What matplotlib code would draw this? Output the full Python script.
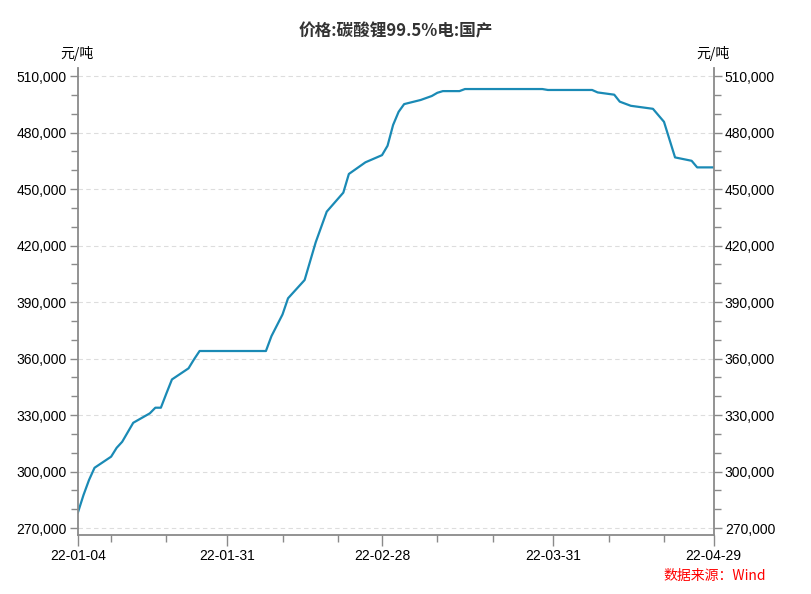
import matplotlib
matplotlib.use("Agg")
import matplotlib.pyplot as plt
import matplotlib.dates as mdates
import matplotlib.ticker as mticker
import pandas as pd

plt.rcParams['font.family'] = ['Liberation Sans', 'Noto Sans CJK SC', 'DejaVu Sans']

title = "价格:碳酸锂99.5%电:国产"
unit = "元/吨"
source = "数据来源：Wind"

dates = ["2022-01-04", "2022-01-05", "2022-01-06", "2022-01-07", "2022-01-10",
         "2022-01-11", "2022-01-12", "2022-01-14", "2022-01-17", "2022-01-18",
         "2022-01-19", "2022-01-20", "2022-01-21", "2022-01-24", "2022-01-25",
         "2022-01-26", "2022-02-07", "2022-02-08", "2022-02-10", "2022-02-11",
         "2022-02-14", "2022-02-16", "2022-02-18", "2022-02-21", "2022-02-22",
         "2022-02-25", "2022-02-28", "2022-03-01", "2022-03-02", "2022-03-03",
         "2022-03-04", "2022-03-07", "2022-03-09", "2022-03-10", "2022-03-11",
         "2022-03-14", "2022-03-15", "2022-03-29", "2022-03-30", "2022-04-07",
         "2022-04-08", "2022-04-11", "2022-04-12", "2022-04-14", "2022-04-18",
         "2022-04-20", "2022-04-22", "2022-04-25", "2022-04-26", "2022-04-29"]
prices = [278300, 287500, 295500, 302000, 307900,
          312600, 315800, 325900, 330900, 333900,
          333900, 341500, 348900, 354800, 359600,
          364000, 364000, 371900, 383400, 392000,
          401700, 421700, 438000, 448100, 458000,
          464200, 468000, 473000, 484000, 491000,
          495100, 497300, 499400, 501100, 502000,
          502000, 503100, 503100, 502600, 502600,
          501300, 500100, 496400, 494200, 492600,
          485700, 466800, 465000, 461500, 461500]

x_ticks = ["2022-01-04", "2022-01-31", "2022-02-28", "2022-03-31", "2022-04-29"]
x_minor = ["2022-01-10", "2022-01-20", "2022-02-10", "2022-02-20",
           "2022-03-10", "2022-03-20", "2022-04-10", "2022-04-20"]
y_ticks = [270000, 300000, 330000, 360000, 390000, 420000, 450000, 480000, 510000]

d = pd.to_datetime(dates)
fig = plt.figure(figsize=(8.12, 5.94), dpi=100)
ax = fig.add_axes([0.096, 0.0993, 0.783, 0.786])
ax.plot(d, prices, color="#1a8ab5", lw=1.6, solid_joinstyle="round")

ax.set_xlim(pd.Timestamp(x_ticks[0]), pd.Timestamp(x_ticks[-1]))
ax.set_ylim(266300, 514200)
ax.set_yticks(y_ticks)
ax.yaxis.set_minor_locator(mticker.MultipleLocator(10000))
ax.yaxis.set_major_formatter(mticker.FuncFormatter(lambda v, p: f"{int(v):,}"))
ax.set_xticks(pd.to_datetime(x_ticks))
ax.set_xticks(pd.to_datetime(x_minor), minor=True)
ax.set_xticklabels([t[2:] for t in x_ticks])

for y in y_ticks:
    ax.axhline(y, color="#dddddd", lw=0.8, ls=(0, (4, 3)), zorder=0)

axc = "#8a8a8a"
for s in ["left", "right", "bottom"]:
    ax.spines[s].set_color(axc)
    ax.spines[s].set_linewidth(1.3)
ax.spines["top"].set_visible(False)

ax.tick_params(axis="y", which="both", left=True, right=True, labelleft=True,
               labelright=True, color=axc, labelsize=10, direction="out")
ax.tick_params(axis="y", which="major", length=6, width=1, pad=2)
ax.tick_params(axis="y", which="minor", length=5, width=1)
ax.tick_params(axis="x", which="major", length=8, width=1, color=axc, labelsize=10, pad=2)
ax.tick_params(axis="x", which="minor", length=5, width=1, color=axc)

fig.text(0.487, 0.948, title, ha="center", va="center", fontsize=12, fontweight="bold",
         color="#333333", family=["Noto Sans CJK SC", "DejaVu Sans"])
fig.text(0.095, 0.91, unit, ha="center", va="center", fontsize=10,
         family=["Noto Sans CJK SC", "DejaVu Sans"])
fig.text(0.878, 0.91, unit, ha="center", va="center", fontsize=10,
         family=["Noto Sans CJK SC", "DejaVu Sans"])
fig.text(0.943, 0.03, source, ha="right", va="center", fontsize=10, color="#ff0000",
         family=["Noto Sans CJK SC", "DejaVu Sans"])

fig.savefig("out.png", dpi=100)
